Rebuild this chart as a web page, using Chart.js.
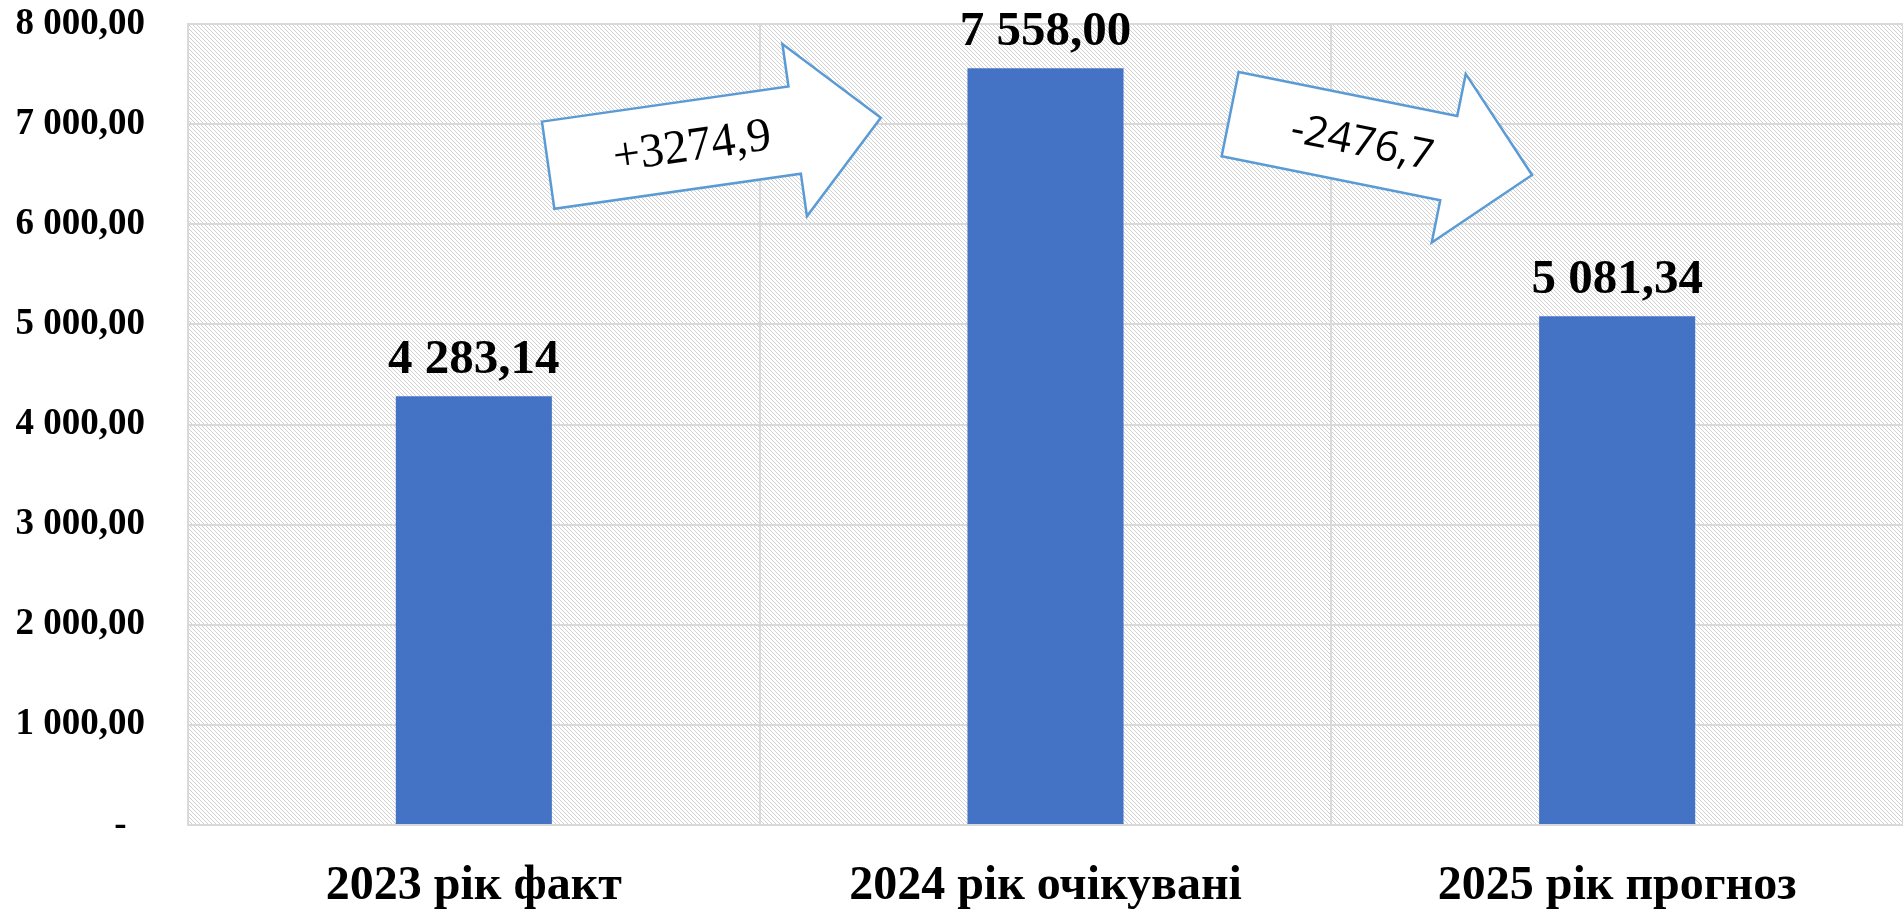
<!DOCTYPE html>
<html>
<head>
<meta charset="utf-8">
<title>chart</title>
<script src="https://cdn.jsdelivr.net/npm/chart.js@4/dist/chart.umd.min.js"></script>
<style>
    body { margin: 0; background: #fff; }
    canvas { display: block; }
</style>
</head>
<body>
<canvas id="chart" width="1903" height="909"></canvas>
<script>
//! data
const categories = ['2023 рік факт', '2024 рік очікувані', '2025 рік прогноз'];
const values = [4283.14, 7558.00, 5081.34];
const yMin = 0;
const yMax = 8000;
const yStep = 1000;

const serif = '"Times New Roman", "Liberation Serif", serif';

// 4 283,14 style numbers
function fmt(v) {
    const parts = v.toFixed(2).split('.');
    parts[0] = parts[0].replace(/\B(?=(\d{3})+(?!\d))/g, ' ');
    return parts.join(',');
}

// diagonal hatch for the plot area
function makeHatch(ctx) {
    const tile = document.createElement('canvas');
    tile.width = 4;
    tile.height = 4;
    const t = tile.getContext('2d');
    t.fillStyle = '#ffffff';
    t.fillRect(0, 0, 4, 4);
    t.fillStyle = '#d0d0d0';
    for (let i = 0; i < 4; i++) {
        t.fillRect(i, i, 1, 1);
    }
    return ctx.createPattern(tile, 'repeat');
}

const hatchPlugin = {
    id: 'hatch',
    beforeDraw(chart) {
        const { ctx, chartArea } = chart;
        ctx.save();
        ctx.fillStyle = makeHatch(ctx);
        ctx.fillRect(chartArea.left, chartArea.top, chartArea.right - chartArea.left, chartArea.bottom - chartArea.top);
        ctx.restore();
    }
};

const valueLabels = {
    id: 'valueLabels',
    afterDatasetsDraw(chart) {
        const ctx = chart.ctx;
        const meta = chart.getDatasetMeta(0);
        ctx.save();
        ctx.font = 'bold 49px ' + serif;
        ctx.fillStyle = '#000';
        ctx.textAlign = 'center';
        ctx.textBaseline = 'alphabetic';
        meta.data.forEach((bar, i) => {
            ctx.fillText(fmt(values[i]), bar.x, bar.y - 23);
        });
        ctx.restore();
    }
};

//* change arrows between the years, anchored on the scales
const arrows = [
    { from: 0, to: 1, at: 0.13, val: 6590, angle: -8.1, len: 336, shaft: 44, head: 87, headLen: 87,
      font: '48px ' + serif, tx: 145, ty: 3 },
    { from: 1, to: 2, at: 1.323, val: 7100, angle: 11.4, len: 308, shaft: 43, head: 86, headLen: 85,
      font: '42px "Open Sans", "Liberation Sans", sans-serif', tx: 135, ty: 3 }
];

const arrowPlugin = {
    id: 'arrows',
    afterDraw(chart) {
        const ctx = chart.ctx;
        const xs = chart.scales.x;
        const ys = chart.scales.y;
        arrows.forEach(a => {
            const diff = values[a.to] - values[a.from];
            const text = (diff > 0 ? '+' : '-') + Math.abs(diff).toFixed(1).replace('.', ',');
            const b = a.len - a.headLen;
            ctx.save();
            ctx.translate(xs.getPixelForValue(a.at), ys.getPixelForValue(a.val));
            ctx.rotate(a.angle * Math.PI / 180);
            ctx.beginPath();
            ctx.moveTo(0, -a.shaft);
            ctx.lineTo(b, -a.shaft);
            ctx.lineTo(b, -a.head);
            ctx.lineTo(a.len, 0);
            ctx.lineTo(b, a.head);
            ctx.lineTo(b, a.shaft);
            ctx.lineTo(0, a.shaft);
            ctx.closePath();
            ctx.fillStyle = '#ffffff';
            ctx.fill();
            ctx.lineWidth = 2.5;
            ctx.strokeStyle = '#5b9bd5';
            ctx.lineJoin = 'miter';
            ctx.stroke();
            ctx.font = a.font;
            ctx.fillStyle = '#000';
            ctx.textAlign = 'center';
            ctx.textBaseline = 'middle';
            ctx.fillText(text, a.tx, a.ty);
            ctx.restore();
        });
    }
};

const chart = document.querySelector('#chart').getContext('2d');
let barChart = new Chart(chart, {
    type: 'bar',
    data: {
        labels: categories,
        datasets: [{
            data: values,
            backgroundColor: '#4472c4',
            barPercentage: 0.273,
            categoryPercentage: 1
        }]
    },
    options: {
        responsive: false,
        devicePixelRatio: 1,
        animation: false,
        layout: { padding: { top: 24, right: 0, bottom: 0, left: 0 } },
        plugins: {
            legend: { display: false },
            tooltip: { enabled: false }
        },
        scales: {
            x: {
                grid: { color: '#d9d9d9', lineWidth: 2, drawTicks: false },
                border: { color: '#d9d9d9', width: 2 },
                ticks: {
                    color: '#000',
                    padding: 33,
                    font: { family: serif, size: 48, weight: 'bold' }
                },
                afterFit(scale) { scale.height = 84; }
            },
            y: {
                min: yMin,
                max: yMax,
                grid: { color: '#d9d9d9', lineWidth: 2, drawTicks: false },
                border: { color: '#d9d9d9', width: 2 },
                ticks: {
                    stepSize: yStep,
                    color: '#000',
                    padding: 43,
                    font: { family: serif, size: 37, weight: 'bold' },
                    callback: (v) => v === 0 ? '-  ' : fmt(v)
                },
                afterFit(scale) {
                    scale.width = 188;
                    scale.paddingTop = 0;
                    scale.paddingBottom = 0;
                }
            }
        }
    },
    plugins: [hatchPlugin, valueLabels, arrowPlugin]
});
</script>
</body>
</html>
